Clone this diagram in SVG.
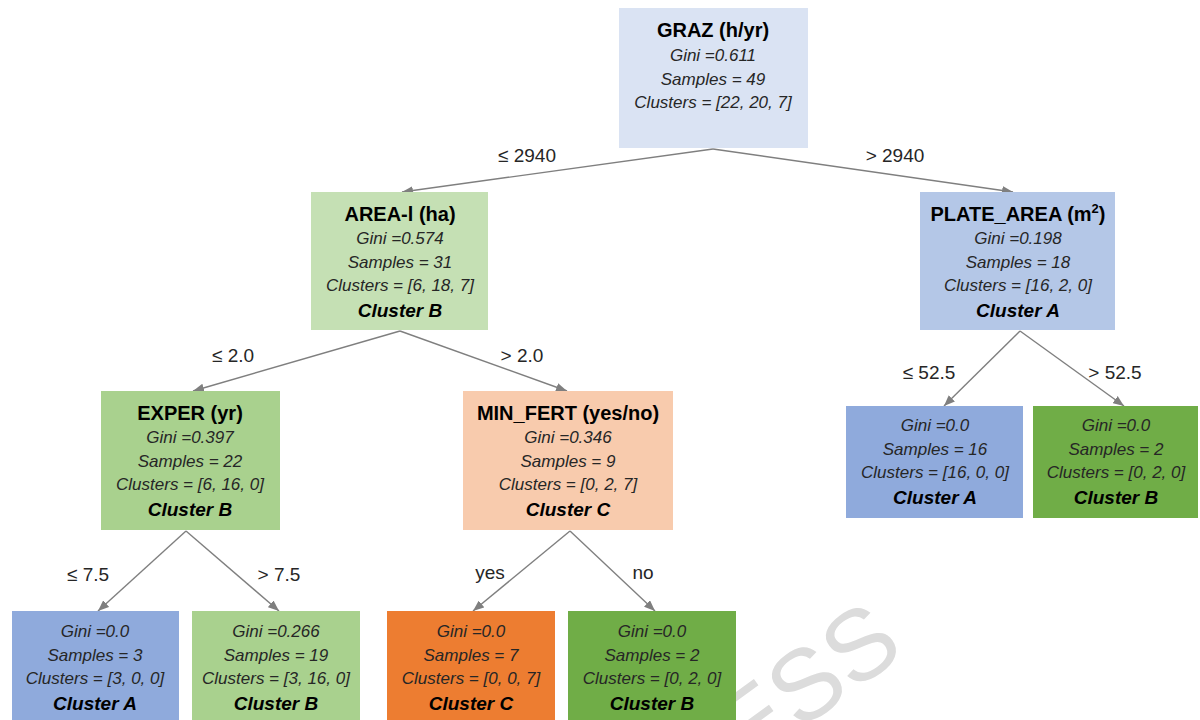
<svg xmlns="http://www.w3.org/2000/svg" width="1200" height="720" viewBox="0 0 1200 720">
<defs>
<marker id="arr" viewBox="0 0 10 8" refX="10" refY="4" markerWidth="11" markerHeight="9" markerUnits="userSpaceOnUse" orient="auto">
<path d="M0,0 L10,4 L0,8 z" fill="#7f7f7f"/>
</marker>
</defs>
<style>
.title{font-family:"Liberation Sans",Arial,sans-serif;font-weight:bold;font-size:20px;fill:#000;text-anchor:middle}
.info{font-family:"Liberation Sans",Arial,sans-serif;font-style:italic;font-size:17px;fill:#262626;text-anchor:middle}
.cls{font-family:"Liberation Sans",Arial,sans-serif;font-style:italic;font-weight:bold;font-size:19px;fill:#000;text-anchor:middle}
.lbl{font-family:"Liberation Sans",Arial,sans-serif;font-size:19px;fill:#262626;text-anchor:middle}
.edge{stroke:#7f7f7f;stroke-width:1.4;fill:none;marker-end:url(#arr)}
.wm{font-family:"Liberation Sans",Arial,sans-serif;font-size:100px;fill:#dcdcdc}
</style>
<rect width="1200" height="720" fill="#fff"/>
<text class="wm" transform="translate(633,852) rotate(-36)">PRESS</text>
<g id="connectors">
<line class="edge" x1="713" y1="149" x2="402" y2="192"/>
<line class="edge" x1="713" y1="149" x2="1013" y2="192"/>
<line class="edge" x1="400" y1="331" x2="193" y2="391"/>
<line class="edge" x1="400" y1="331" x2="567" y2="391"/>
<line class="edge" x1="1020" y1="331" x2="944" y2="406"/>
<line class="edge" x1="1020" y1="331" x2="1124" y2="406"/>
<line class="edge" x1="186" y1="531" x2="98" y2="611"/>
<line class="edge" x1="186" y1="531" x2="279" y2="611"/>
<line class="edge" x1="570" y1="531" x2="473" y2="611"/>
<line class="edge" x1="570" y1="531" x2="655" y2="611"/>
<text class="lbl" x="527" y="162">≤ 2940</text>
<text class="lbl" x="895" y="162">&gt; 2940</text>
<text class="lbl" x="233" y="362">≤ 2.0</text>
<text class="lbl" x="522" y="362">&gt; 2.0</text>
<text class="lbl" x="929" y="379">≤ 52.5</text>
<text class="lbl" x="1115" y="379">&gt; 52.5</text>
<text class="lbl" x="88" y="581">≤ 7.5</text>
<text class="lbl" x="279" y="581">&gt; 7.5</text>
<text class="lbl" x="490" y="579">yes</text>
<text class="lbl" x="643" y="579">no</text>
</g>
<g id="root">
<rect x="619" y="8" width="189" height="140" fill="#dae3f3"/>
<text class="title" x="713" y="37">GRAZ (h/yr)</text>
<text class="info" x="713" y="61">Gini =0.611</text>
<text class="info" x="713" y="85">Samples = 49</text>
<text class="info" x="713" y="108">Clusters = [22, 20, 7]</text>
</g>
<g id="area">
<rect x="311" y="192" width="177" height="138" fill="#c5e0b4"/>
<text class="title" x="400" y="221">AREA-l (ha)</text>
<text class="info" x="400" y="244">Gini =0.574</text>
<text class="info" x="400" y="268">Samples = 31</text>
<text class="info" x="400" y="291">Clusters = [6, 18, 7]</text>
<text class="cls" x="400" y="317">Cluster B</text>
</g>
<g id="plate">
<rect x="920" y="192" width="195" height="138" fill="#b4c7e7"/>
<text class="title" x="1018" y="221">PLATE_AREA (m<tspan font-size="13" dy="-8">2</tspan><tspan dy="8">)</tspan></text>
<text class="info" x="1018" y="244">Gini =0.198</text>
<text class="info" x="1018" y="268">Samples = 18</text>
<text class="info" x="1018" y="291">Clusters = [16, 2, 0]</text>
<text class="cls" x="1018" y="317">Cluster A</text>
</g>
<g id="exper">
<rect x="101" y="391" width="179" height="139" fill="#a9d18e"/>
<text class="title" x="190" y="420">EXPER (yr)</text>
<text class="info" x="190" y="443">Gini =0.397</text>
<text class="info" x="190" y="467">Samples = 22</text>
<text class="info" x="190" y="490">Clusters = [6, 16, 0]</text>
<text class="cls" x="190" y="516">Cluster B</text>
</g>
<g id="minfert">
<rect x="463" y="391" width="210" height="139" fill="#f8cbad"/>
<text class="title" x="568" y="420">MIN_FERT (yes/no)</text>
<text class="info" x="568" y="443">Gini =0.346</text>
<text class="info" x="568" y="467">Samples = 9</text>
<text class="info" x="568" y="490">Clusters = [0, 2, 7]</text>
<text class="cls" x="568" y="516">Cluster C</text>
</g>
<g id="leaf1">
<rect x="12" y="611" width="167" height="115" fill="#8faadc"/>
<text class="info" x="95" y="637">Gini =0.0</text>
<text class="info" x="95" y="661">Samples = 3</text>
<text class="info" x="95" y="684">Clusters = [3, 0, 0]</text>
<text class="cls" x="95" y="710">Cluster A</text>
</g>
<g id="leaf2">
<rect x="192" y="611" width="168" height="115" fill="#a9d18e"/>
<text class="info" x="276" y="637">Gini =0.266</text>
<text class="info" x="276" y="661">Samples = 19</text>
<text class="info" x="276" y="684">Clusters = [3, 16, 0]</text>
<text class="cls" x="276" y="710">Cluster B</text>
</g>
<g id="leaf3">
<rect x="387" y="611" width="168" height="115" fill="#ed7d31"/>
<text class="info" x="471" y="637">Gini =0.0</text>
<text class="info" x="471" y="661">Samples = 7</text>
<text class="info" x="471" y="684">Clusters = [0, 0, 7]</text>
<text class="cls" x="471" y="710">Cluster C</text>
</g>
<g id="leaf4">
<rect x="568" y="611" width="168" height="115" fill="#70ad47"/>
<text class="info" x="652" y="637">Gini =0.0</text>
<text class="info" x="652" y="661">Samples = 2</text>
<text class="info" x="652" y="684">Clusters = [0, 2, 0]</text>
<text class="cls" x="652" y="710">Cluster B</text>
</g>
<g id="leaf5">
<rect x="846" y="406" width="177" height="112" fill="#8faadc"/>
<text class="info" x="935" y="431">Gini =0.0</text>
<text class="info" x="935" y="455">Samples = 16</text>
<text class="info" x="935" y="478">Clusters = [16, 0, 0]</text>
<text class="cls" x="935" y="504">Cluster A</text>
</g>
<g id="leaf6">
<rect x="1033" y="406" width="165" height="112" fill="#70ad47"/>
<text class="info" x="1116" y="431">Gini =0.0</text>
<text class="info" x="1116" y="455">Samples = 2</text>
<text class="info" x="1116" y="478">Clusters = [0, 2, 0]</text>
<text class="cls" x="1116" y="504">Cluster B</text>
</g>
</svg>
